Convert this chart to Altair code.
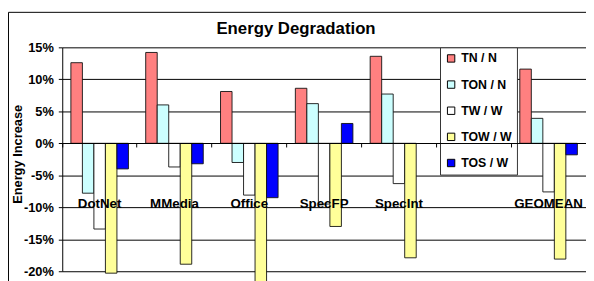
import altair as alt
import pandas as pd

categories = ["DotNet", "MMedia", "Office", "SpecFP", "SpecInt", " ", "GEOMEAN"]
bench = ["DotNet", "MMedia", "Office", "SpecFP", "SpecInt", "GEOMEAN"]
series = ["TN / N", "TON / N", "TW / W", "TOW / W", "TOS / W"]
colors = ["#FF8080", "#CCFFFF", "#FFFFFF", "#FFFF99", "#0000FF"]

tn_n = [12.6, 14.2, 8.1, 8.6, 13.6, 11.6]
ton_n = [-7.8, 6.0, -3.0, 6.2, 7.7, 3.9]
tw_w = [-13.4, -3.7, -8.1, -9.5, -6.3, -7.6]
tow_w = [-20.3, -18.9, -22.0, -13.0, -17.9, -18.1]
tos_w = [-4.0, -3.2, -8.5, 3.1, None, -1.8]

y_ticks = [-20, -15, -10, -5, 0, 5, 10, 15]

rows = []
for s, vals in zip(series, [tn_n, ton_n, tw_w, tow_w, tos_w]):
    for c, v in zip(bench, vals):
        if v is not None:
            rows.append({"cat": c, "series": s, "value": v})
df = pd.DataFrame(rows)

FONT = "Liberation Sans"
W, H = 531, 227

bars = alt.Chart(df).mark_bar(stroke="#111111", strokeWidth=0.9, opacity=1).encode(
    x=alt.X(
        "cat:N",
        sort=categories,
        scale=alt.Scale(domain=categories, paddingInner=0, paddingOuter=0),
        axis=alt.Axis(
            title=None, orient="bottom", offset=-130, bandPosition=0,
            ticks=True, tickSize=4, tickColor="black", domainColor="black",
            labelPadding=61, labelBaseline="alphabetic", zindex=1,
            labelAngle=0, grid=False, labelFontSize=13.5,
        ),
    ),
    xOffset=alt.XOffset(
        "series:N", sort=series,
        scale=alt.Scale(domain=series, paddingOuter=0.75, paddingInner=0),
    ),
    y=alt.Y(
        "value:Q",
        scale=alt.Scale(domain=[-20, 15], nice=False, zero=False),
        axis=alt.Axis(
            values=y_ticks, labelExpr="datum.value + '%'", grid=True,
            gridColor="black", gridWidth=1, domainColor="black",
            tickColor="black", tickSize=4, labelPadding=5, labelFontSize=13,
            title="Energy Increase", titleX=-41.5, titleY=108, titleFontSize=13,
            titleFontWeight="bold", titleBaseline="alphabetic", titleFont=FONT,
            titleColor="black",
        ),
    ),
    color=alt.Color(
        "series:N", sort=series,
        scale=alt.Scale(domain=series, range=colors),
        legend=alt.Legend(
            title=None, orient="none", legendX=383, legendY=0,
            fillColor="white", strokeColor="#333333", padding=5,
            rowPadding=13.5, symbolType="square", symbolSize=56,
            symbolStrokeColor="black", symbolStrokeWidth=1, symbolOpacity=1,
            labelFontSize=12.5, labelFontWeight="bold", labelFont=FONT,
            labelColor="black", labelOffset=4,
        ),
    ),
)

border = alt.Chart(alt.Data(values=[{}])).mark_rect(
    fillOpacity=0, stroke="black", strokeWidth=1
).encode(
    x=alt.value(-54.5), x2=alt.value(700), y=alt.value(-35.5), y2=alt.value(400)
)

chart = alt.layer(border, bars).properties(
    width=W, height=H,
    autosize=alt.AutoSizeParams(type="none"),
    padding={"left": 55, "top": 38, "right": 0, "bottom": 8},
    title=alt.TitleParams(
        "Energy Degradation", font=FONT, fontSize=17, fontWeight="bold",
        color="black", anchor="middle", frame="group", dx=-28.5, dy=39,
        offset=0, baseline="alphabetic",
    ),
).configure_view(stroke=None).configure_axis(
    labelFont=FONT, labelFontWeight="bold", labelColor="black"
)

chart.save("out.html", embed_options={"renderer": "svg", "actions": False})
